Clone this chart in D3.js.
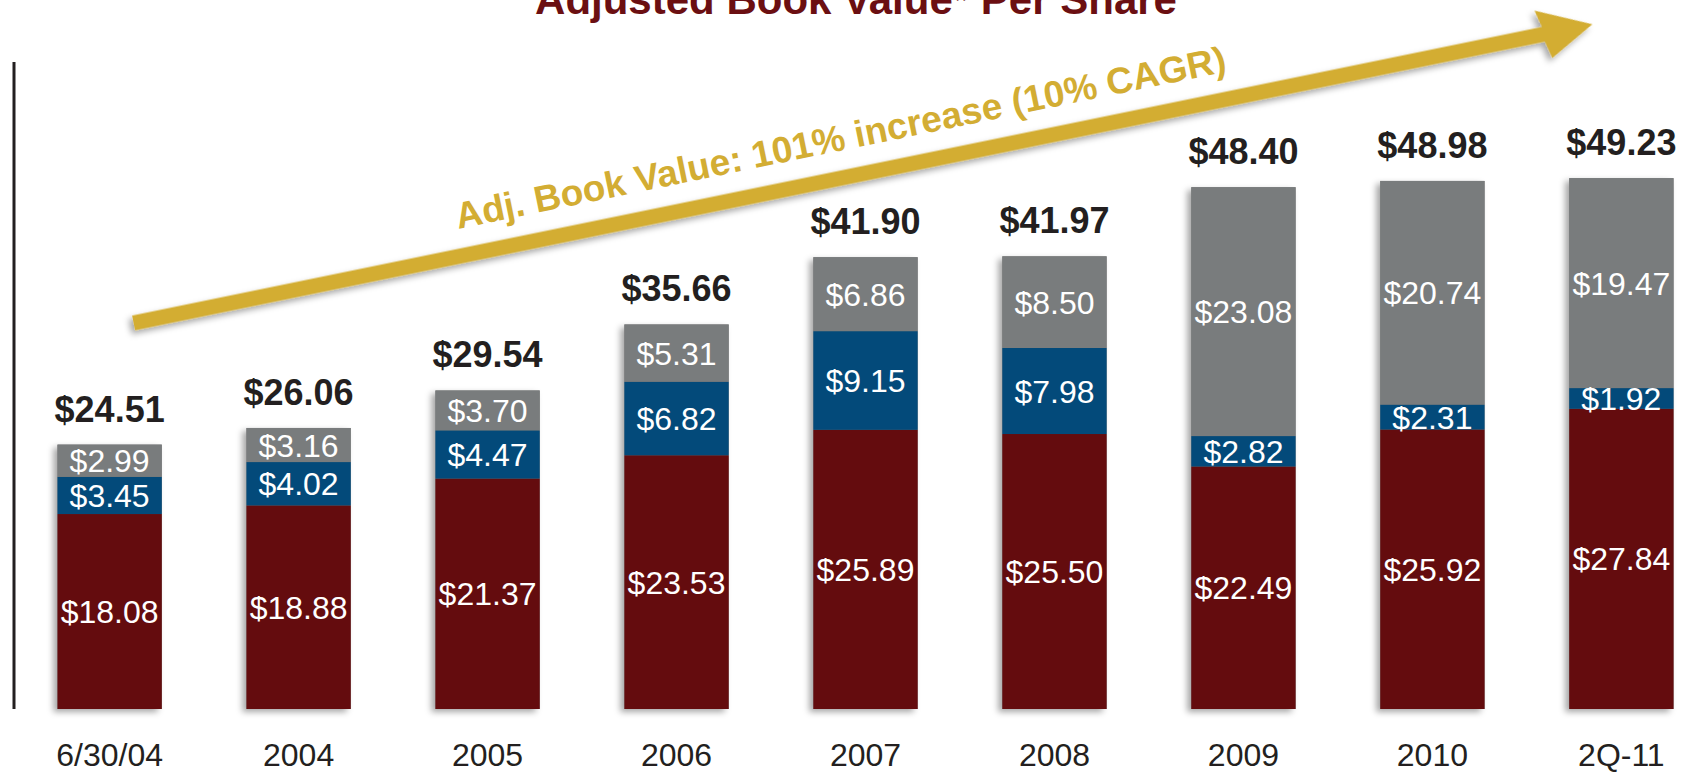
<!DOCTYPE html>
<html>
<head>
<meta charset="utf-8">
<script src="https://cdn.jsdelivr.net/npm/d3@7"></script>
<style>
  body { margin: 0; background: #fff; }
  svg { display: block; font-family: "Liberation Sans", Arial, sans-serif; }
</style>
</head>
<body>
<div id="chart"></div>
<script>
// data
var categories = ['6/30/04', '2004', '2005', '2006', '2007', '2008', '2009', '2010', '2Q-11'];
var bottomVals = [18.08, 18.88, 21.37, 23.53, 25.89, 25.50, 22.49, 25.92, 27.84];
var middleVals = [3.45, 4.02, 4.47, 6.82, 9.15, 7.98, 2.82, 2.31, 1.92];
var topVals    = [2.99, 3.16, 3.70, 5.31, 6.86, 8.50, 23.08, 20.74, 19.47];
var totals     = [24.51, 26.06, 29.54, 35.66, 41.90, 41.97, 48.40, 48.98, 49.23];
var seriesKeys = ['bottom', 'middle', 'top'];
var seriesColors = ['#640c0e', '#034a7a', '#797c7d'];
var titleText = 'Adjusted Book Value* Per Share';
var arrowText = 'Adj. Book Value: 101% increase (10% CAGR)';

var width = 1703, height = 772;
var baseY = 709, topY = 62, axisX = 14;

var svg = d3.select('#chart').append('svg')
  .attr('width', width)
  .attr('height', height);

var defs = svg.append('defs');
defs.append('filter').attr('id', 'shadow')
  .attr('x', '-20%').attr('y', '-20%').attr('width', '140%').attr('height', '140%')
  .append('feDropShadow')
  .attr('dx', -4).attr('dy', 3).attr('stdDeviation', 3)
  .attr('flood-color', '#000').attr('flood-opacity', 0.35);

var x = d3.scaleBand()
  .domain(categories)
  .range([axisX, 1717])
  .paddingInner(0.448)
  .paddingOuter(0.23);

var y = d3.scaleLinear()
  .domain([0, 60])
  .range([baseY, topY]);

// build rows for the stack
var rows = categories.map(function(c, i){
  return { cat: c, bottom: bottomVals[i], middle: middleVals[i], top: topVals[i] };
});
var stacked = d3.stack().keys(seriesKeys)(rows);

// title (cut off at the top edge like the slide)
svg.append('text')
  .attr('x', 856).attr('y', 14)
  .attr('text-anchor', 'middle')
  .style('font-size', '42px').style('font-weight', 'bold')
  .attr('fill', '#6b0f12')
  .text(titleText);

// bars
var layers = svg.selectAll('g.layer')
  .data(stacked)
  .enter().append('g')
  .attr('class', 'layer')
  .attr('fill', function(d, i){ return seriesColors[i]; });

// shadow underneath whole bars
svg.insert('g', 'g.layer').selectAll('rect')
  .data(rows)
  .enter().append('rect')
  .attr('x', function(d){ return x(d.cat); })
  .attr('y', function(d, i){ return y(stacked[2][i][1]); })
  .attr('width', x.bandwidth())
  .attr('height', function(d, i){ return baseY - y(stacked[2][i][1]); })
  .attr('fill', '#777')
  .attr('filter', 'url(#shadow)');

layers.selectAll('rect')
  .data(function(d){ return d; })
  .enter().append('rect')
  .attr('x', function(d){ return x(d.data.cat); })
  .attr('y', function(d){ return y(d[1]); })
  .attr('width', x.bandwidth())
  .attr('height', function(d){ return y(d[0]) - y(d[1]); });

// labels inside segments
stacked.forEach(function(layer){
  svg.append('g').selectAll('text')
    .data(layer)
    .enter().append('text')
    .attr('x', function(d){ return x(d.data.cat) + x.bandwidth()/2; })
    .attr('y', function(d){ return (y(d[0]) + y(d[1]))/2; })
    .attr('dy', '0.36em')
    .attr('text-anchor', 'middle')
    .attr('fill', '#fff')
    .style('font-size', '32px')
    .text(function(d){ return '$' + (d[1] - d[0]).toFixed(2); });
});

// total labels
svg.append('g').selectAll('text')
  .data(totals)
  .enter().append('text')
  .attr('x', function(d, i){ return x(categories[i]) + x.bandwidth()/2; })
  .attr('y', function(d, i){ return y(stacked[2][i][1]) - 23; })
  .attr('text-anchor', 'middle')
  .attr('fill', '#231f20')
  .style('font-size', '36px').style('font-weight', 'bold')
  .text(function(d){ return '$' + d.toFixed(2); });

// axes
svg.append('line')
  .attr('x1', axisX).attr('x2', axisX)
  .attr('y1', topY).attr('y2', baseY)
  .attr('stroke', '#231f20').attr('stroke-width', 3);
svg.append('line')
  .attr('x1', axisX - 1.5).attr('x2', width)
  .attr('y1', baseY).attr('y2', baseY)
  .attr('stroke', '#231f20').attr('stroke-width', 3)
  .attr('filter', 'url(#shadow)');

var xAxis = svg.append('g')
  .attr('transform', 'translate(0,' + baseY + ')')
  .call(d3.axisBottom(x).tickSize(0).tickPadding(0));
xAxis.select('.domain').remove();
xAxis.selectAll('text')
  .attr('y', 57)
  .attr('dy', 0)
  .attr('fill', '#231f20')
  .style('font-family', '"Liberation Sans", Arial, sans-serif')
  .style('font-size', '32px');

// growth arrow, anchored to the first and last bars
var start = [x(categories[0]) + x.bandwidth()/2 + 24, y(35.8)];
var tip = [x(categories[8]) + x.bandwidth()/2 - 29, y(63.5)];
var dx = tip[0] - start[0], dy = tip[1] - start[1];
var len = Math.sqrt(dx*dx + dy*dy);
var ang = Math.atan2(dy, dx) * 180 / Math.PI;
var shaftW = 15, headL = 50, headW = 50;

var arrowG = svg.append('g')
  .attr('transform', 'translate(' + start[0] + ',' + start[1] + ') rotate(' + ang + ')');

var pts = [
  [0, -shaftW/2], [len - headL, -shaftW/2], [len - headL - 4, -headW/2],
  [len, 0], [len - headL + 4, headW/2], [len - headL, shaftW/2], [0, shaftW/2]
];
arrowG.append('path')
  .attr('d', d3.line()(pts) + 'Z')
  .attr('fill', '#d3ad33')
  .attr('filter', 'url(#shadow)');

arrowG.append('text')
  .attr('x', len * 0.49)
  .attr('y', -27)
  .attr('text-anchor', 'middle')
  .attr('fill', '#d3ad33')
  .style('font-size', '37px').style('font-weight', 'bold')
  .text(arrowText);
</script>
</body>
</html>
